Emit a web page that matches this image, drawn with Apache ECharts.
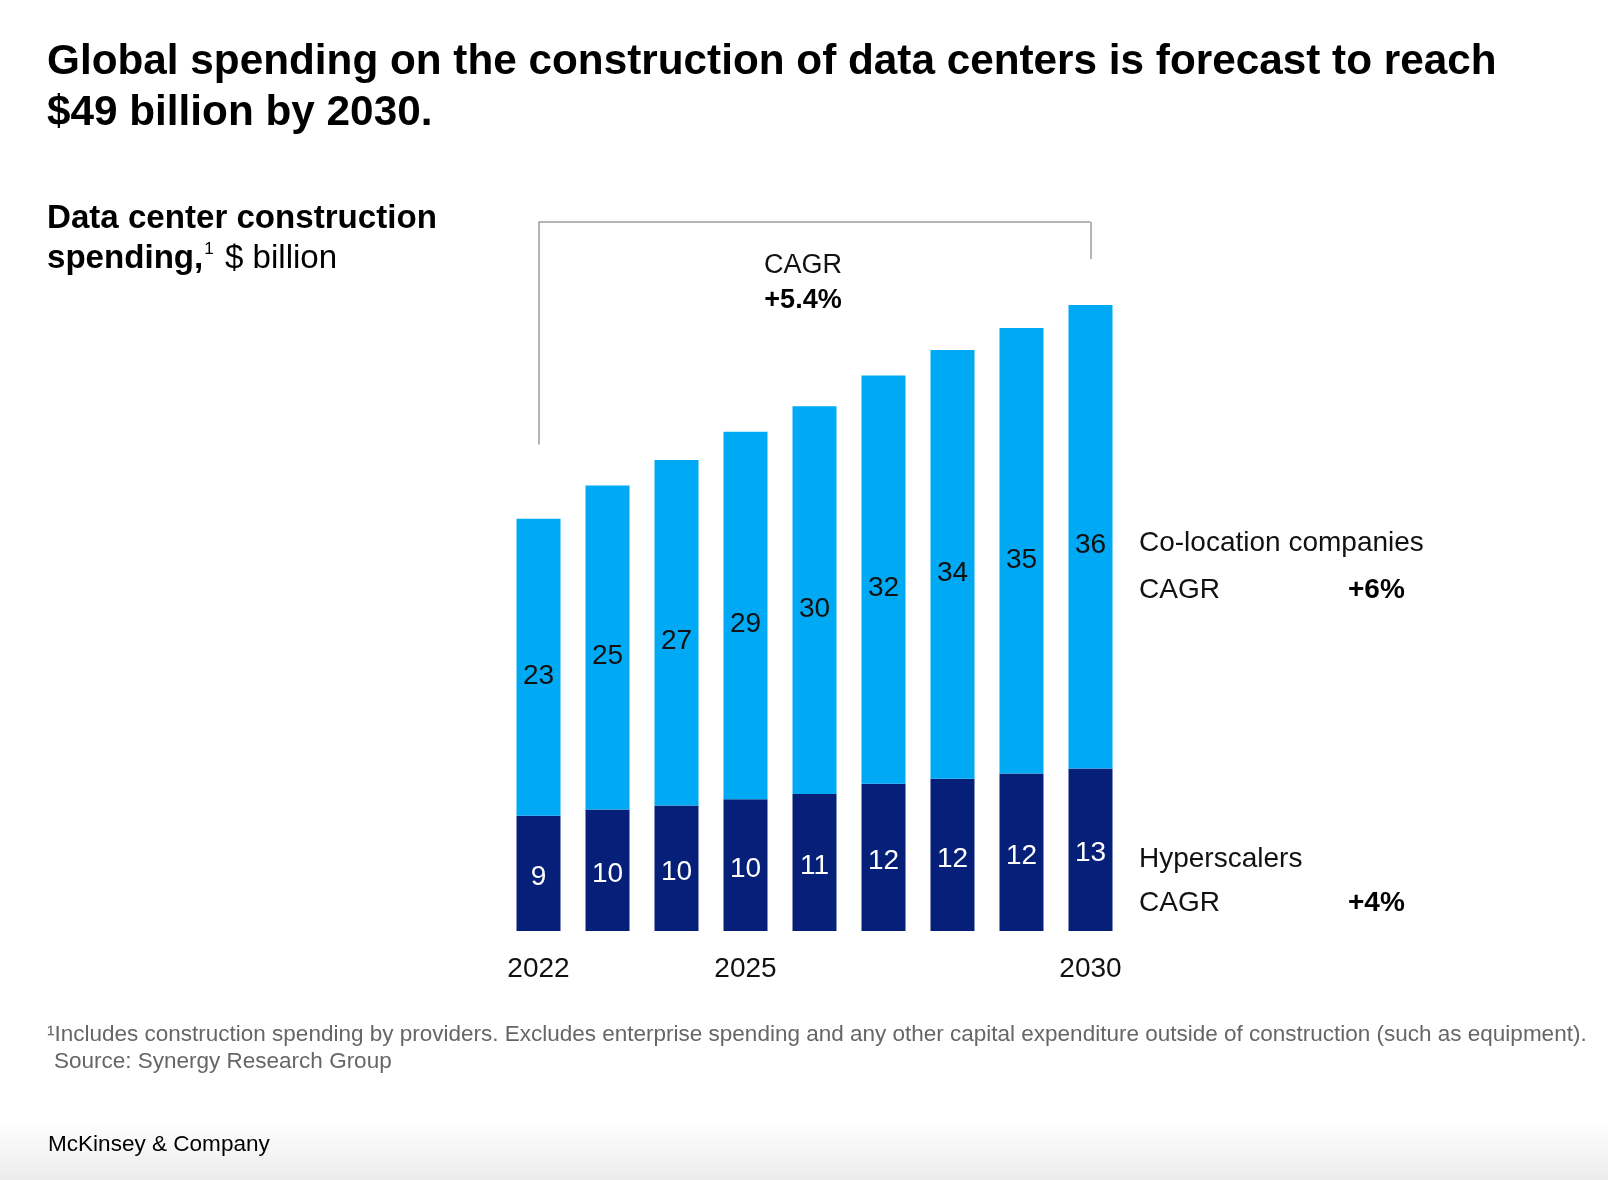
<!DOCTYPE html>
<html>
<head>
<meta charset="utf-8">
<script src="https://cdn.jsdelivr.net/npm/echarts@6/dist/echarts.min.js"></script>
<style>
html,body{margin:0;padding:0;background:#fff;}
#chart{width:1608px;height:1180px;}
</style>
</head>
<body>
<div id="chart"></div>
<script>
// ---- data (labels show the rounded values) ----
const categories = ['2022','2023','2024','2025','2026','2027','2028','2029','2030'];
const hyperscalers = [9.0, 9.5, 9.8, 10.3, 10.7, 11.5, 11.9, 12.3, 12.7];
const colocation = [23.2, 25.3, 27.0, 28.7, 30.3, 31.9, 33.5, 34.8, 36.2];
const tickLabels = ['2022','','','2025','','','','','2030'];
const cagrTotal = '+5.4%';
const cagrColocation = '+6%';
const cagrHyperscalers = '+4%';

const FONT = '"Liberation Sans", Arial, sans-serif';
const ctx = document.createElement('canvas').getContext('2d');
function fit(text, weight, target) {
  ctx.font = weight + ' 100px ' + FONT;
  return 100 * target / ctx.measureText(text).width;
}
const titleL1 = 'Global spending on the construction of data centers is forecast to reach';
const titleL2 = '$49 billion by 2030.';
const titleSize = fit(titleL1, 'bold', 1450);
const subL1 = 'Data center construction';
const subSize = fit(subL1, 'bold', 390);
const foot1 = '\u00b9Includes construction spending by providers. Excludes enterprise spending and any other capital expenditure outside of construction (such as equipment).';
const footSize = fit(foot1, 'normal', 1540);
const brand = 'McKinsey & Company';
const brandSize = fit(brand, 'normal', 222);

function txt(x, y, text, size, weight, color, align) {
  return {type:'text', x:x, y:y, silent:true, z:10,
    style:{text:text, fill:color||'#000', fontSize:size, fontWeight:weight||'normal',
      fontFamily:FONT, align:align||'left', verticalAlign:'middle'}};
}
const roundLabel = function(p){ return String(Math.round(p.value)); };

const chart = echarts.init(document.getElementById('chart'), null, {renderer:'canvas'});
const option = {
  backgroundColor:'#ffffff',
  animation:false,
  grid:{left:504, width:621, top:163, height:768},
  xAxis:{
    type:'category', data:categories,
    axisLine:{show:false}, axisTick:{show:false},
    axisLabel:{interval:0, margin:23, fontSize:28, lineHeight:30, color:'#111', fontFamily:FONT,
      formatter:function(v, i){ return tickLabels[i]; }}
  },
  yAxis:{type:'value', min:0, max:60, show:false, splitLine:{show:false}},
  series:[
    {
      name:'Hyperscalers', type:'bar', stack:'total', barWidth:44, data:hyperscalers,
      itemStyle:{color:'#061f79'},
      label:{show:true, position:'inside', offset:[0,4], color:'#fff', fontSize:28, fontFamily:FONT, formatter:roundLabel},
      markLine:{
        silent:true, symbol:['none','none'], animation:false,
        label:{show:false},
        lineStyle:{color:'#9c9c9c', width:1.5, type:'solid'},
        data:[
          [{coord:[0,38.0]},{coord:[0,55.4]}],
          [{coord:[0,55.4]},{coord:[8.07,55.4]}],
          [{coord:[8.07,55.4]},{coord:[8.07,52.5]}]
        ]
      }
    },
    {
      name:'Co-location companies', type:'bar', stack:'total', barWidth:44, data:colocation,
      itemStyle:{color:'#00a9f4'},
      label:{show:true, position:'inside', offset:[0,9], color:'#111', fontSize:28, fontFamily:FONT, formatter:roundLabel}
    }
  ],
  graphic:[
    {type:'rect', z:0, silent:true, shape:{x:0,y:1120,width:1608,height:60},
      style:{fill:new echarts.graphic.LinearGradient(0,0,0,1,[{offset:0,color:'#ffffff'},{offset:1,color:'#ececec'}])}},
    txt(47, 62, titleL1, titleSize, 'bold', '#000'),
    txt(47, 113, titleL2, titleSize, 'bold', '#000'),
    txt(47, 219, subL1, subSize, 'bold', '#000'),
    {type:'text', x:47, y:259, silent:true, z:10,
      style:{text:'{b|spending,}{s|1}{r| $ billion}', verticalAlign:'middle', align:'left',
        rich:{
          b:{fontSize:subSize, fontWeight:'bold', fontFamily:FONT, fill:'#000', lineHeight:36},
          s:{fontSize:17, fontFamily:FONT, fill:'#000', verticalAlign:'top', lineHeight:36, padding:[0,2,14,1]},
          r:{fontSize:subSize, fontFamily:FONT, fill:'#000', lineHeight:36}
        }}},
    txt(803, 266, 'CAGR', 27, 'normal', '#111', 'center'),
    txt(803, 301, cagrTotal, 27, 'bold', '#000', 'center'),
    txt(1139, 543, 'Co-location companies', 28, 'normal', '#111'),
    txt(1139, 590, 'CAGR', 28, 'normal', '#111'),
    txt(1348, 590, cagrColocation, 28, 'bold', '#000'),
    txt(1139, 859, 'Hyperscalers', 28, 'normal', '#111'),
    txt(1139, 903, 'CAGR', 28, 'normal', '#111'),
    txt(1348, 903, cagrHyperscalers, 28, 'bold', '#000'),
    txt(47, 1035, foot1, footSize, 'normal', '#666'),
    txt(54, 1062, 'Source: Synergy Research Group', footSize, 'normal', '#666'),
    txt(48, 1145, brand, brandSize, 'normal', '#000')
  ]
};
chart.setOption(option);
</script>
</body>
</html>
